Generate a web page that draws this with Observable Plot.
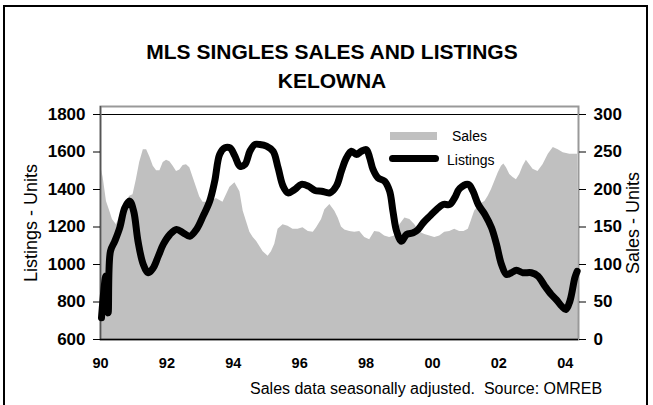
<!DOCTYPE html>
<html><head><meta charset="utf-8">
<script src="https://cdn.jsdelivr.net/npm/d3@7"></script>
<script src="https://cdn.jsdelivr.net/npm/@observablehq/plot@0.6"></script>
<style>
body{margin:0;background:#fff;font-family:"Liberation Sans",Arial,sans-serif;width:653px;height:405px;overflow:hidden;position:relative;color:#000}
#border{position:absolute;left:3px;top:5px;width:641px;height:480px;border:2px solid #000}
#title{position:absolute;top:37px;left:0;width:664px;text-align:center;font-weight:bold;font-size:21px;line-height:29px}
#chart{position:absolute;top:98px;left:0}
#footer{position:absolute;top:380px;left:250px;font-size:16px;white-space:pre}
.lg{position:absolute;font-size:14px;line-height:16px}
#chart [aria-label="y-axis tick label"],#chart [aria-label="x-axis tick label"]{font-weight:bold}
#chart [aria-label="y-axis tick label"]{font-size:17px}
#chart [aria-label="x-axis tick label"]{font-size:14.5px}
#chart [aria-label="y-axis label"]{font-size:18px}
</style></head>
<body>
<div id="border"></div>
<div id="title">MLS SINGLES SALES AND LISTINGS<br>KELOWNA</div>
<div id="chart"></div>
<div class="lg" style="left:390px;top:132px;width:47px;height:8px;background:#c0c0c0"></div>
<div class="lg" style="left:452px;top:128px">Sales</div>
<div class="lg" style="left:389px;top:155px;width:50px;height:7px;background:#000;border-radius:4px"></div>
<div class="lg" style="left:447px;top:152px">Listings</div>
<div id="footer">Sales data seasonally adjusted.  Source: OMREB</div>
<script>
const salesT = [1990.00,1990.08,1990.18,1990.28,1990.36,1990.48,1990.68,1990.88,1990.98,1991.08,1991.18,1991.29,1991.39,1991.49,1991.59,1991.69,1991.79,1991.89,1991.99,1992.09,1992.19,1992.29,1992.39,1992.49,1992.59,1992.69,1992.79,1992.89,1992.99,1993.09,1993.29,1993.49,1993.69,1993.90,1994.05,1994.20,1994.30,1994.40,1994.50,1994.60,1994.70,1994.80,1994.90,1995.05,1995.15,1995.25,1995.35,1995.50,1995.65,1995.80,1995.95,1996.10,1996.26,1996.41,1996.51,1996.66,1996.76,1996.91,1997.06,1997.16,1997.26,1997.36,1997.51,1997.66,1997.81,1997.96,1998.11,1998.26,1998.41,1998.56,1998.71,1998.86,1999.02,1999.17,1999.32,1999.47,1999.62,1999.77,1999.92,2000.07,2000.22,2000.37,2000.52,2000.67,2000.82,2000.95,2001.08,2001.17,2001.27,2001.42,2001.58,2001.68,2001.78,2001.88,2001.98,2002.08,2002.15,2002.23,2002.33,2002.43,2002.53,2002.63,2002.73,2002.83,2002.93,2003.03,2003.18,2003.33,2003.49,2003.64,2003.79,2003.94,2004.14,2004.37,2004.40];
const salesV = [233,216,184,171,160,153,175,191,193,213,236,253,253,243,231,225,225,236,239,237,231,224,226,232,233,229,216,203,190,183,183,188,183,203,209,197,171,157,143,136,131,124,117,111,117,127,147,153,151,147,147,149,144,143,149,160,173,180,171,162,150,146,144,143,144,136,133,144,143,138,136,138,153,162,160,153,143,140,138,136,138,143,144,147,144,144,147,158,171,180,184,191,200,211,222,231,234,229,220,216,213,220,231,239,233,227,224,233,247,256,253,249,247,247,12];
const listT = [1990.03,1990.16,1990.23,1990.30,1990.43,1990.58,1990.73,1990.88,1991.00,1991.13,1991.29,1991.44,1991.59,1991.74,1991.89,1992.09,1992.29,1992.49,1992.69,1992.89,1993.09,1993.29,1993.44,1993.59,1993.74,1993.90,1994.05,1994.20,1994.35,1994.50,1994.65,1994.80,1995.00,1995.20,1995.35,1995.50,1995.65,1995.85,1996.05,1996.26,1996.46,1996.66,1996.91,1997.11,1997.26,1997.41,1997.56,1997.71,1997.86,1998.01,1998.11,1998.21,1998.36,1998.56,1998.71,1998.81,1998.92,1999.07,1999.22,1999.42,1999.57,1999.72,1999.92,2000.12,2000.32,2000.52,2000.67,2000.82,2001.08,2001.22,2001.38,2001.58,2001.78,2001.93,2002.08,2002.23,2002.38,2002.53,2002.73,2002.98,2003.18,2003.39,2003.58,2003.73,2003.89,2004.02,2004.14,2004.29,2004.36];
const listV = [716,938,742,1071,1124,1196,1302,1338,1284,1124,1000,956,982,1044,1107,1160,1187,1169,1151,1187,1258,1338,1444,1587,1622,1622,1578,1524,1533,1604,1640,1640,1631,1604,1516,1418,1382,1400,1427,1418,1395,1391,1382,1420,1500,1569,1604,1587,1604,1613,1569,1507,1462,1444,1391,1284,1178,1124,1160,1169,1187,1222,1258,1293,1320,1320,1356,1405,1427,1391,1320,1267,1196,1107,1000,947,956,969,956,956,938,884,840,813,778,760,804,929,964];
const listingTicks = [600,800,1000,1200,1400,1600,1800];
const salesTicks = [0,50,100,150,200,250,300];
const yearTicks = [1990,1992,1994,1996,1998,2000,2002,2004];

const sales = salesT.map((t,i)=>({t, v: salesV[i]}));
const listings = listT.map((t,i)=>({t, v: listV[i]}));
const toLeft = s => 600 + s*4;

const chart = Plot.plot({
  width:653, height:275,
  marginLeft:100, marginRight:75, marginTop:8, marginBottom:34,
  x:{domain:[1990,2004.4]},
  y:{domain:[600,1800], insetTop:8},
  style:{fontFamily:'"Liberation Sans",Arial,sans-serif', fontSize:"16px", color:"#000", background:"transparent", overflow:"visible"},
  marks:[
    Plot.areaY(sales,{x:"t", y1:600, y2:d=>toLeft(d.v), fill:"#c0c0c0"}),
    Plot.ruleY([1800],{stroke:"#000", strokeWidth:1}),
    Plot.frame({stroke:"#999", strokeWidth:2}),
    Plot.ruleX([1990],{stroke:"#555", strokeWidth:1.5}),
    Plot.ruleY([600],{stroke:"#000", strokeWidth:1.5}),
    Plot.lineY(listings,{x:"t", y:"v", stroke:"#000", strokeWidth:7, curve:"catmull-rom", strokeLinejoin:"round", strokeLinecap:"round"}),
    Plot.axisY({anchor:"left", ticks:listingTicks, tickFormat:d=>String(d), tickSize:7, tickPadding:8, label:"Listings - Units", labelAnchor:"center", labelArrow:"none", labelOffset:76}),
    Plot.axisY({anchor:"right", ticks:salesTicks.map(toLeft), tickFormat:d=>String((d-600)/4), tickSize:7, tickPadding:8, label:"Sales - Units", labelAnchor:"center", labelArrow:"none", labelOffset:60}),
    Plot.axisX({ticks:yearTicks, tickSize:0, tickPadding:18, tickFormat:d=>String(d).slice(2), label:null})
  ]
});
document.getElementById("chart").appendChild(chart);
</script>
</body></html>
